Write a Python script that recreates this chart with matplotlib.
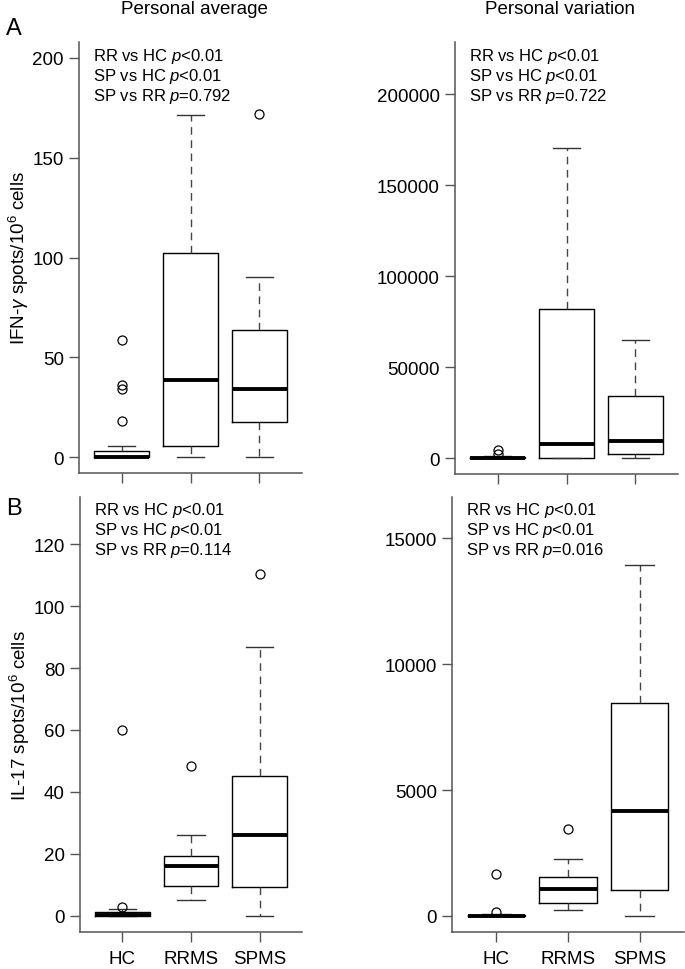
import matplotlib.pyplot as plt

plt.rcParams['font.family'] = ['Liberation Sans', 'DejaVu Sans']
plt.rcParams['mathtext.fontset'] = 'custom'
plt.rcParams['mathtext.rm'] = 'Liberation Sans'
plt.rcParams['mathtext.it'] = 'Liberation Sans:italic'

groups = ['HC', 'RRMS', 'SPMS']

# IFN-gamma, personal average
ifn_avg_q1 = [0, 5.5, 17.8]
ifn_avg_med = [0.2, 38.8, 34]
ifn_avg_q3 = [3, 102.3, 63.8]
ifn_avg_lo = [0, 0, 0]
ifn_avg_hi = [5.6, 171.5, 90.3]
ifn_avg_out = [[58.6, 36, 34.2, 18], [], [171.7]]

# IFN-gamma, personal variation
ifn_var_q1 = [0, 0, 2000]
ifn_var_med = [200, 7700, 9500]
ifn_var_q3 = [600, 82000, 34000]
ifn_var_lo = [0, 0, 0]
ifn_var_hi = [1200, 170500, 65000]
ifn_var_out = [[4200, 2400], [], []]

# IL-17, personal average
il17_avg_q1 = [0, 9.6, 9.4]
il17_avg_med = [0.3, 16, 26.1]
il17_avg_q3 = [1.2, 19.3, 45.3]
il17_avg_lo = [0, 5.1, 0]
il17_avg_hi = [2.1, 26.1, 86.9]
il17_avg_out = [[3.0, 59.9], [48.3], [110.4]]

# IL-17, personal variation
il17_var_q1 = [0, 500, 1037]
il17_var_med = [10, 1077, 4154]
il17_var_q3 = [40, 1550, 8468]
il17_var_lo = [0, 225, 0]
il17_var_hi = [80, 2275, 13950]
il17_var_out = [[145, 1683], [3471], []]

notes_a1 = ['RR vs HC $p$<0.01', 'SP vs HC $p$<0.01', 'SP vs RR $p$=0.792']
notes_a2 = ['RR vs HC $p$<0.01', 'SP vs HC $p$<0.01', 'SP vs RR $p$=0.722']
notes_b1 = ['RR vs HC $p$<0.01', 'SP vs HC $p$<0.01', 'SP vs RR $p$=0.114']
notes_b2 = ['RR vs HC $p$<0.01', 'SP vs HC $p$<0.01', 'SP vs RR $p$=0.016']

W, H = 685, 970
fig = plt.figure(figsize=(W / 100, H / 100), dpi=100)


def px_axes(x0, y0, x1, y1):
    return fig.add_axes([x0 / W, 1 - y1 / H, (x1 - x0) / W, (y1 - y0) / H])


def panel(ax, q1, med, q3, lo, hi, out, top, ticks, notes, labels, ylabel=None):
    stats = []
    for i in range(len(groups)):
        stats.append(dict(q1=q1[i], med=med[i], q3=q3[i], whislo=lo[i],
                          whishi=hi[i], fliers=out[i], label=groups[i]))
    ax.bxp(stats, positions=[1, 2, 3], widths=0.8, showfliers=True,
           boxprops=dict(color='black', lw=1),
           medianprops=dict(color='black', lw=2.8, solid_capstyle='butt'),
           whiskerprops=dict(color='#444444', lw=1, linestyle=(0, (5.5, 4))),
           capprops=dict(color='#333333', lw=1),
           capwidths=0.4,
           flierprops=dict(marker='o', markerfacecolor='none',
                           markeredgecolor='black', markersize=6.5,
                           markeredgewidth=0.9))
    pad = top * 0.04
    ax.set_ylim(-pad, top + pad)
    ax.set_xlim(0.38, 3.62)
    ax.set_yticks(ticks)
    ax.set_yticklabels([str(t) for t in ticks])
    ax.set_xticks([1, 2, 3])
    if labels:
        ax.set_xticklabels(groups, fontsize=13.5)
    else:
        ax.set_xticklabels([])
    for s in ['top', 'right']:
        ax.spines[s].set_visible(False)
    for s in ['left', 'bottom']:
        ax.spines[s].set_color('#555555')
        ax.spines[s].set_linewidth(1.1)
    ax.tick_params(axis='both', direction='out', length=7, width=1,
                   color='#555555', labelsize=13.5, pad=4)
    ax.tick_params(axis='x', pad=6)
    if ylabel:
        ax.set_ylabel(ylabel, fontsize=13.5, labelpad=1)
    for k, t in enumerate(notes):
        ax.annotate(t, xy=(0, 1), xycoords='axes fraction',
                    xytext=(14, -13 - 20 * k), textcoords='offset pixels',
                    ha='left', va='center', fontsize=12)


ax1 = px_axes(79, 43, 302, 474)
panel(ax1, ifn_avg_q1, ifn_avg_med, ifn_avg_q3, ifn_avg_lo, ifn_avg_hi,
      ifn_avg_out, 200, [0, 50, 100, 150, 200], notes_a1, False,
      r'IFN-$\gamma$ spots/10$^6$ cells')

ax2 = px_axes(455, 43, 678, 475)
panel(ax2, ifn_var_q1, ifn_var_med, ifn_var_q3, ifn_var_lo, ifn_var_hi,
      ifn_var_out, 220000, [0, 50000, 100000, 150000, 200000], notes_a2, False)

ax3 = px_axes(80, 498, 302, 933)
panel(ax3, il17_avg_q1, il17_avg_med, il17_avg_q3, il17_avg_lo, il17_avg_hi,
      il17_avg_out, 130, [0, 20, 40, 60, 80, 100, 120], notes_b1, True,
      r'IL-17 spots/10$^6$ cells')

ax4 = px_axes(452, 498, 684, 933)
panel(ax4, il17_var_q1, il17_var_med, il17_var_q3, il17_var_lo, il17_var_hi,
      il17_var_out, 16000, [0, 5000, 10000, 15000], notes_b2, True)

fig.text(194 / W, 1 - 9 / H, 'Personal average', ha='center', va='center',
         fontsize=13.5)
fig.text(560 / W, 1 - 9 / H, 'Personal variation', ha='center', va='center',
         fontsize=13.5)
fig.text(6 / W, 1 - 29 / H, 'A', ha='left', va='center', fontsize=17)
fig.text(6 / W, 1 - 509 / H, 'B', ha='left', va='center', fontsize=17)

fig.savefig('out.png', dpi=100)
